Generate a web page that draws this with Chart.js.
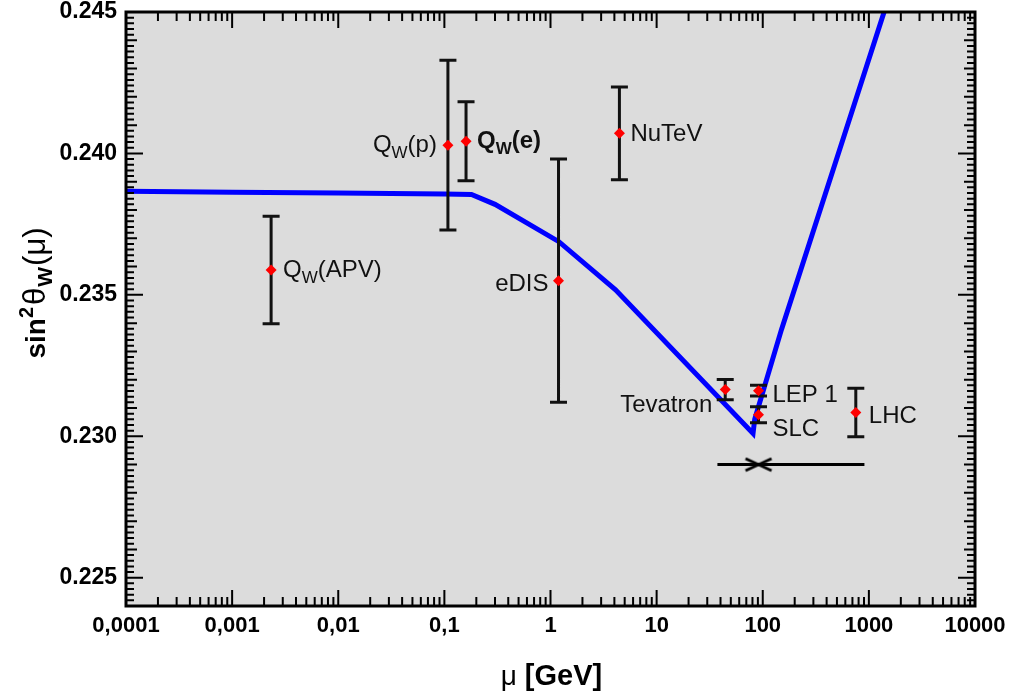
<!DOCTYPE html>
<html>
<head>
<meta charset="utf-8">
<script src="https://cdn.jsdelivr.net/npm/chart.js@4.4.1/dist/chart.umd.min.js"></script>
<style>
  body { margin: 0; background: #fff; }
  canvas { display: block; }
</style>
</head>
<body>
<canvas id="chart" width="1014" height="693"></canvas>
<script>
// Running of sin^2(theta_W) vs scale mu
const curveMu = [0.0001, 0.001, 0.01, 0.1, 0.18, 0.3, 1.2, 4.1, 81, 84, 150, 2000];
const curveS2w = [0.23866, 0.23863, 0.23860, 0.23857, 0.23855, 0.2382, 0.23688, 0.23518, 0.2301, 0.2306, 0.23377, 0.24683];

// measurements
const expNames = ['Q_W(APV)', 'Q_W(p)', 'Q_W(e)', 'eDIS', 'NuTeV', 'Tevatron', 'LEP 1', 'SLC', 'LHC'];
const expMu = [0.00233, 0.108, 0.160, 1.19, 4.46, 44.3, 91.2, 91.2, 753];
const expS2w = [0.23588, 0.24029, 0.24043, 0.2355, 0.24071, 0.23165, 0.23161, 0.23076, 0.23084];
const expErr = [0.0019, 0.003, 0.0014, 0.0043, 0.00164, 0.00036, 0.00019, 0.00028, 0.00086];

// horizontal reference line with the cross
const refLineMu = [37.4, 908];
const refLineS2w = 0.229;
const refMarkMu = 91.2;

const xTickValues = [1e-4, 1e-3, 1e-2, 0.1, 1, 10, 100, 1000, 10000];
const xTickLabels = ['0,0001', '0,001', '0,01', '0,1', '1', '10', '100', '1000', '10000'];
const yTickValues = [0.225, 0.230, 0.235, 0.240, 0.245];

// label placement relative to the point (pixels)
const labelPos = [
    { dx: 12, dy: 7, align: 'left' },
    { dx: -11, dy: 7, align: 'right' },
    { dx: 11, dy: 7, align: 'left', bold: true },
    { dx: -10, dy: 10, align: 'right' },
    { dx: 11, dy: 8, align: 'left' },
    { dx: -13, dy: 22, align: 'right' },
    { dx: 14, dy: 11, align: 'left' },
    { dx: 14, dy: 21, align: 'left' },
    { dx: 13, dy: 10, align: 'left' }
];

const FONT = "'Liberation Sans', Arial, sans-serif";

// flattened X marker
function makeCross() {
    const c = document.createElement('canvas');
    c.width = 30; c.height = 16;
    const g = c.getContext('2d');
    g.strokeStyle = '#000';
    g.lineWidth = 3;
    g.beginPath();
    g.moveTo(2, 2); g.lineTo(28, 14);
    g.moveTo(2, 14); g.lineTo(28, 2);
    g.stroke();
    return c;
}

// draws text pieces one after the other, sub/superscripts via dy
function drawRich(ctx, parts, x, y, align) {
    let total = 0;
    parts.forEach(p => { ctx.font = p.font; total += ctx.measureText(p.t).width + (p.gap || 0); });
    let cx = align === 'right' ? x - total : (align === 'center' ? x - total / 2 : x);
    ctx.textAlign = 'left';
    ctx.textBaseline = 'alphabetic';
    parts.forEach(p => {
        ctx.font = p.font;
        ctx.fillText(p.t, cx, y + (p.dy || 0));
        cx += ctx.measureText(p.t).width + (p.gap || 0);
    });
}

function labelParts(name, bold) {
    const w = bold ? 'bold ' : '';
    const i = name.indexOf('_');
    if (i < 0) return [{ t: name, font: w + '24px ' + FONT }];
    return [
        { t: name.slice(0, i), font: w + '24px ' + FONT },
        { t: name[i + 1], font: w + '17px ' + FONT, dy: 6 },
        { t: name.slice(i + 2), font: w + '24px ' + FONT }
    ];
}

const framePlugin = {
    id: 'frame',
    beforeDraw(chart) {
        const { ctx, chartArea: a } = chart;
        ctx.save();
        ctx.fillStyle = '#dcdcdc';
        ctx.fillRect(a.left, a.top, a.right - a.left, a.bottom - a.top);
        ctx.restore();
    },
    beforeDatasetDraw(chart, args) {
        if (args.index !== 0) return;
        // error bars under the red diamonds
        const { ctx, scales: { x, y } } = chart;
        ctx.save();
        ctx.strokeStyle = '#111';
        ctx.lineWidth = 3;
        ctx.beginPath();
        expMu.forEach((m, i) => {
            const px = x.getPixelForValue(m);
            const top = y.getPixelForValue(expS2w[i] + expErr[i]);
            const bot = y.getPixelForValue(expS2w[i] - expErr[i]);
            ctx.moveTo(px, top); ctx.lineTo(px, bot);
            ctx.moveTo(px - 8.5, top); ctx.lineTo(px + 8.5, top);
            ctx.moveTo(px - 8.5, bot); ctx.lineTo(px + 8.5, bot);
        });
        ctx.stroke();
        ctx.restore();
    },
    afterDraw(chart) {
        const { ctx, chartArea: a, scales: { x, y } } = chart;
        ctx.save();
        // tick marks on all four sides
        ctx.strokeStyle = '#000';
        ctx.lineWidth = 2;
        ctx.beginPath();
        for (let e = -4; e < 4; e++) {
            for (let m = 1; m < 10; m++) {
                const px = x.getPixelForValue(m * Math.pow(10, e));
                const len = m === 1 ? 16 : 9;
                ctx.moveTo(px, a.bottom); ctx.lineTo(px, a.bottom - len);
                ctx.moveTo(px, a.top); ctx.lineTo(px, a.top + len);
            }
        }
        for (let i = 0; i <= 105; i++) {
            const py = y.getPixelForValue(0.224 + i * 0.0002);
            const len = i % 25 === 5 ? 17 : (i % 5 === 0 ? 11 : 8);
            ctx.moveTo(a.left, py); ctx.lineTo(a.left + len, py);
            ctx.moveTo(a.right, py); ctx.lineTo(a.right - len, py);
        }
        ctx.stroke();
        ctx.lineWidth = 3;
        ctx.strokeRect(a.left, a.top, a.right - a.left, a.bottom - a.top);

        // point labels
        ctx.fillStyle = '#111';
        expNames.forEach((n, i) => {
            const p = labelPos[i];
            const px = x.getPixelForValue(expMu[i]) + p.dx;
            const py = y.getPixelForValue(expS2w[i]) + p.dy;
            drawRich(ctx, labelParts(n, p.bold), px, py, p.align);
        });

        // axis titles
        ctx.fillStyle = '#000';
        drawRich(ctx, [
            { t: '\u03bc ', font: '28px ' + FONT },
            { t: '[GeV]', font: 'bold 29px ' + FONT }
        ], (a.left + a.right) / 2 + 1, 685, 'center');

        ctx.translate(45, 293);
        ctx.rotate(-Math.PI / 2);
        drawRich(ctx, [
            { t: 'sin', font: 'bold 28px ' + FONT },
            { t: '2', font: 'bold 20px ' + FONT, dy: -12, gap: 2 },
            { t: '\u03b8', font: '31px ' + FONT, gap: 1 },
            { t: 'W', font: 'bold 21px ' + FONT, dy: 7, gap: 1 },
            { t: '(\u03bc)', font: '31px ' + FONT }
        ], 0, 0, 'center');
        ctx.restore();
    }
};

new Chart(document.getElementById('chart'), {
    type: 'scatter',
    data: {
        datasets: [
            {
                label: 'data',
                data: expMu.map((m, i) => ({ x: m, y: expS2w[i] })),
                pointStyle: 'rectRot',
                pointRadius: 5.5,
                backgroundColor: '#ff0000',
                borderColor: '#ff0000',
                borderWidth: 0,
                order: 0
            },
            {
                label: 'ref',
                data: refLineMu.map(m => ({ x: m, y: refLineS2w })),
                showLine: true,
                borderColor: '#000',
                borderWidth: 3,
                pointRadius: 0,
                order: 1
            },
            {
                label: 'cross',
                data: [{ x: refMarkMu, y: refLineS2w }],
                pointStyle: makeCross(),
                order: 1
            },
            {
                label: 'running',
                data: curveMu.map((m, i) => ({ x: m, y: curveS2w[i] })),
                showLine: true,
                borderColor: '#0000ff',
                borderWidth: 5,
                pointRadius: 0,
                clip: 0,
                order: 2
            }
        ]
    },
    options: {
        responsive: false,
        animation: false,
        devicePixelRatio: 1,
        layout: { padding: { top: 12, right: 39, left: 0, bottom: 0 } },
        plugins: { legend: { display: false }, tooltip: { enabled: false } },
        scales: {
            x: {
                type: 'logarithmic',
                min: 1e-4,
                max: 1e4,
                grid: { display: false, drawTicks: false },
                border: { display: false },
                afterBuildTicks: s => { s.ticks = xTickValues.map(v => ({ value: v })); },
                afterFit: s => { s.height = 87; s.paddingLeft = 0; s.paddingRight = 0; },
                ticks: {
                    autoSkip: false,
                    maxRotation: 0,
                    padding: 7,
                    color: '#000',
                    font: { family: FONT, size: 22, weight: 'bold' },
                    callback: (v, i) => xTickLabels[i]
                }
            },
            y: {
                min: 0.224,
                max: 0.245,
                grid: { display: false, drawTicks: false },
                border: { display: false },
                afterBuildTicks: s => { s.ticks = yTickValues.map(v => ({ value: v })); },
                afterFit: s => { s.width = 126; s.paddingTop = 0; s.paddingBottom = 0; },
                ticks: {
                    padding: 9,
                    color: '#000',
                    font: { family: FONT, size: 23, weight: 'bold' },
                    callback: v => v.toFixed(3)
                }
            }
        }
    },
    plugins: [framePlugin]
});
</script>
</body>
</html>
